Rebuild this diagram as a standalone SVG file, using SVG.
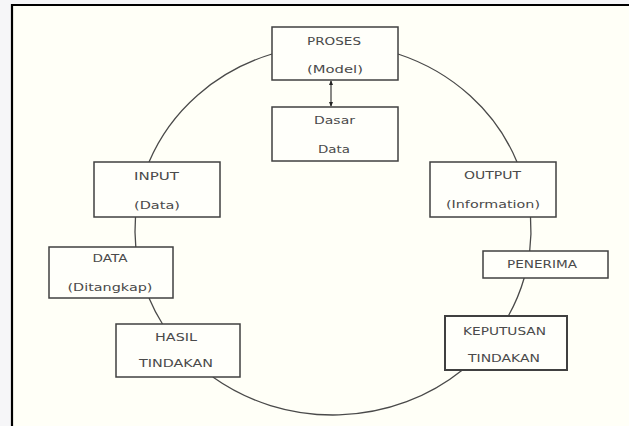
<svg xmlns="http://www.w3.org/2000/svg" width="629" height="426" viewBox="0 0 629 426">
  <style>
    .box { fill: #fffffa; stroke: #404040; stroke-width: 1.5; }
    .lbl { font-family: "DejaVu Sans", Verdana, sans-serif; font-size: 11px; fill: #4a4a4a; text-anchor: middle; }
    .arc { fill: none; stroke: #4a4a4a; stroke-width: 1.3; }
    .frame { fill: none; stroke: #000; stroke-width: 2.2; }
  </style>
  <defs>
    <marker id="tip" viewBox="0 0 6 6" refX="5" refY="3" markerWidth="5" markerHeight="5" orient="auto-start-reverse" markerUnits="userSpaceOnUse">
      <path d="M0,0.5 L6,3 L0,5.5 Z" fill="#222"/>
    </marker>
  </defs>

  <!-- page and frame -->
  <rect x="0" y="0" width="629" height="426" fill="#f6f6f8"/>
  <rect x="12" y="5" width="617" height="421" fill="#fffff7"/>
  <path class="frame" d="M12,426 V5 H629"/>

  <!-- cycle connectors: segments of one ellipse (c 333,230 r 198x185) -->
  <g id="connectors">
    <path class="arc" d="M272,54 A198,185 0 0 0 149,162"/>
    <path class="arc" d="M398,54 A198,185 0 0 1 517,162"/>
    <path class="arc" d="M135.5,217 A198,185 0 0 0 135.8,247"/>
    <path class="arc" d="M149,298 A198,185 0 0 0 162.5,324"/>
    <path class="arc" d="M212.8,377 A198,185 0 0 0 462.4,370"/>
    <path class="arc" d="M530.5,217 A198,185 0 0 1 529.7,251"/>
    <path class="arc" d="M524.2,278 A198,185 0 0 1 508.3,316"/>
    <line class="arc" x1="331" y1="81" x2="331" y2="106" marker-start="url(#tip)" marker-end="url(#tip)"/>
  </g>

  <g id="proses">
    <rect class="box" x="272" y="27" width="126" height="53"/>
    <text class="lbl" x="334" y="45" textLength="54" lengthAdjust="spacingAndGlyphs">PROSES</text>
    <text class="lbl" x="335" y="73" textLength="56" lengthAdjust="spacingAndGlyphs">(Model)</text>
  </g>

  <g id="dasar-data">
    <rect class="box" x="272" y="107" width="126" height="54"/>
    <text class="lbl" x="334.5" y="124" textLength="41" lengthAdjust="spacingAndGlyphs">Dasar</text>
    <text class="lbl" x="334" y="153" textLength="32" lengthAdjust="spacingAndGlyphs">Data</text>
  </g>

  <g id="input">
    <rect class="box" x="94" y="162" width="126" height="55"/>
    <text class="lbl" x="156.5" y="180" textLength="45" lengthAdjust="spacingAndGlyphs">INPUT</text>
    <text class="lbl" x="157" y="209" textLength="46" lengthAdjust="spacingAndGlyphs">(Data)</text>
  </g>

  <g id="output">
    <rect class="box" x="430" y="162" width="126" height="55"/>
    <text class="lbl" x="492.5" y="179" textLength="57" lengthAdjust="spacingAndGlyphs">OUTPUT</text>
    <text class="lbl" x="493" y="208" textLength="94" lengthAdjust="spacingAndGlyphs">(Information)</text>
  </g>

  <g id="data-ditangkap">
    <rect class="box" x="49" y="247" width="124" height="51"/>
    <text class="lbl" x="110" y="262" textLength="35" lengthAdjust="spacingAndGlyphs">DATA</text>
    <text class="lbl" x="110" y="291" textLength="85" lengthAdjust="spacingAndGlyphs">(Ditangkap)</text>
  </g>

  <g id="penerima">
    <rect class="box" x="483" y="251" width="125" height="27"/>
    <text class="lbl" x="542" y="268" textLength="70" lengthAdjust="spacingAndGlyphs">PENERIMA</text>
  </g>

  <g id="hasil-tindakan">
    <rect class="box" x="116" y="324" width="124" height="53"/>
    <text class="lbl" x="176" y="341" textLength="42" lengthAdjust="spacingAndGlyphs">HASIL</text>
    <text class="lbl" x="176" y="367" textLength="74" lengthAdjust="spacingAndGlyphs">TINDAKAN</text>
  </g>

  <g id="keputusan-tindakan">
    <rect class="box" x="445" y="316" width="122" height="54" style="stroke-width:2"/>
    <text class="lbl" x="504.5" y="335" textLength="83" lengthAdjust="spacingAndGlyphs">KEPUTUSAN</text>
    <text class="lbl" x="504" y="362" textLength="72" lengthAdjust="spacingAndGlyphs">TINDAKAN</text>
  </g>
</svg>
